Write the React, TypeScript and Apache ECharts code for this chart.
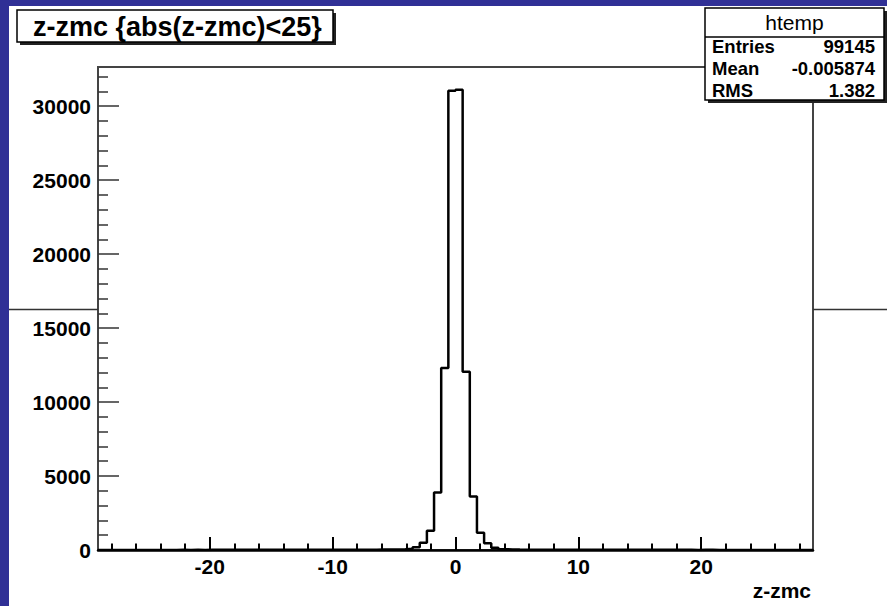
import React, { useEffect, useRef } from 'react';
import * as echarts from 'echarts';

// Histogram definition (ROOT TH1 "htemp")
const X_MIN = -29.1;
const X_MAX = 29.1;
const Y_MAX = 32650;

// bins from X_MIN up to 0 (50 bins)
const negativeSideCounts = [
  0, 0, 0, 0, 0, 0, 0, 4, 6, 8,
  7, 9, 8, 10, 8, 9, 11, 10, 9, 12,
  11, 10, 13, 12, 11, 14, 13, 13, 15, 14,
  16, 15, 17, 16, 19, 18, 21, 20, 24, 26,
  27, 33, 45, 90, 180, 490, 1300, 3890, 12300, 31040,
];
// bins from 0 up to X_MAX (50 bins)
const positiveSideCounts = [
  31110, 12050, 3620, 1170, 450, 155, 55, 35, 28, 25,
  22, 23, 20, 19, 18, 19, 16, 17, 15, 14,
  15, 13, 14, 12, 13, 11, 12, 10, 11, 12,
  10, 9, 10, 8, 9, 9, 8, 7, 8, 6,
  7, 6, 4, 0, 0, 0, 0, 0, 0, 0,
];

const xMajorTicks = [-20, -10, 0, 10, 20];
const xMinorTicks = [-28, -26, -24, -22, -20, -18, -16, -14, -12, -10, -8, -6, -4, -2, 0, 2, 4, 6, 8, 10, 12, 14, 16, 18, 20, 22, 24, 26, 28];
const yMajorTicks = [0, 5000, 10000, 15000, 20000, 25000, 30000];
const yMinorTicks = [1000, 2000, 3000, 4000, 6000, 7000, 8000, 9000, 11000, 12000, 13000, 14000, 16000, 17000, 18000, 19000, 21000, 22000, 23000, 24000, 26000, 27000, 28000, 29000, 31000, 32000];

const titleText = 'z-zmc {abs(z-zmc)<25}';
const xTitle = 'z-zmc';
const statsName = 'htemp';
const statsLabels = ['Entries', 'Mean', 'RMS'];
const statsValues = ['99145', '-0.005874', '1.382'];

const FONT = '"Liberation Sans", Arial, Helvetica, sans-serif';

export default function App() {
  const ref = useRef<HTMLDivElement>(null);

  useEffect(() => {
    document.body.style.margin = '0';
    const chart = echarts.init(ref.current!, null, { renderer: 'svg', width: 887, height: 606 });

    const counts = [...negativeSideCounts, ...positiveSideCounts];
    const w = (X_MAX - X_MIN) / counts.length;
    const data: number[][] = counts.map((c, i) => [X_MIN + i * w, c]);
    data.push([X_MAX, counts[counts.length - 1]]);

    const fmt = (v: number) => String(v);

    const rowY = [46, 68.5, 90];
    const statsGraphics: any[] = [];
    statsLabels.forEach((lab, i) => {
      statsGraphics.push({
        type: 'text', x: 712, y: rowY[i], z: 102,
        style: { text: lab, font: `bold 18.5px ${FONT}`, fill: '#000', textAlign: 'left', textVerticalAlign: 'middle' },
      });
      statsGraphics.push({
        type: 'text', x: 875, y: rowY[i], z: 102,
        style: { text: statsValues[i], font: `bold 18.5px ${FONT}`, fill: '#000', textAlign: 'right', textVerticalAlign: 'middle' },
      });
    });

    const option: any = {
      animation: false,
      grid: {
        left: 98, right: 74, top: 67, bottom: 56,
        show: true, borderColor: '#444', borderWidth: 2, backgroundColor: 'transparent',
      },
      xAxis: [
        {
          type: 'value', min: X_MIN, max: X_MAX, position: 'bottom',
          axisLine: { show: true, onZero: false, lineStyle: { color: '#000', width: 2.5 } },
          axisTick: { show: true, inside: true, length: 13, customValues: xMajorTicks, lineStyle: { color: '#000', width: 2 } },
          axisLabel: { show: true, customValues: xMajorTicks, formatter: fmt, fontFamily: FONT, fontWeight: 'bold', fontSize: 21, color: '#000', margin: 6 },
          splitLine: { show: false },
        },
        {
          type: 'value', min: X_MIN, max: X_MAX, position: 'bottom',
          axisLine: { show: false, onZero: false },
          axisTick: { show: true, inside: true, length: 6.5, customValues: xMinorTicks, lineStyle: { color: '#000', width: 2 } },
          axisLabel: { show: false },
          splitLine: { show: false },
        },
      ],
      yAxis: [
        {
          type: 'value', min: 0, max: Y_MAX, position: 'left',
          axisLine: { show: true, onZero: false, lineStyle: { color: '#444', width: 2 } },
          axisTick: { show: true, inside: true, length: 21, customValues: yMajorTicks, lineStyle: { color: '#333', width: 1.5 } },
          axisLabel: { show: true, customValues: yMajorTicks, formatter: fmt, fontFamily: FONT, fontWeight: 'bold', fontSize: 21, color: '#000', margin: 7 },
          splitLine: { show: false },
        },
        {
          type: 'value', min: 0, max: Y_MAX, position: 'left',
          axisLine: { show: false, onZero: false },
          axisTick: { show: true, inside: true, length: 10, customValues: yMinorTicks, lineStyle: { color: '#333', width: 1.5 } },
          axisLabel: { show: false },
          splitLine: { show: false },
        },
      ],
      series: [
        {
          type: 'line', step: 'end', data, xAxisIndex: 0, yAxisIndex: 0,
          symbol: 'none', showSymbol: false, clip: true, z: 5,
          lineStyle: { color: '#000', width: 2.5 },
        },
      ],
      graphic: [
        // stray horizontal line across the margins
        { type: 'line', z: 50, shape: { x1: 9, y1: 309.5, x2: 98, y2: 309.5 }, style: { stroke: '#333', lineWidth: 1.5 } },
        { type: 'line', z: 50, shape: { x1: 813, y1: 309.5, x2: 887, y2: 309.5 }, style: { stroke: '#333', lineWidth: 1.5 } },
        // title box
        { type: 'rect', z: 100, shape: { x: 20, y: 13, width: 316, height: 32 }, style: { fill: '#222' } },
        { type: 'rect', z: 101, shape: { x: 17, y: 10, width: 316, height: 32 }, style: { fill: '#fff', stroke: '#000', lineWidth: 1.5 } },
        { type: 'text', z: 102, x: 33, y: 26.5, style: { text: titleText, font: `bold 27px ${FONT}`, fill: '#000', textAlign: 'left', textVerticalAlign: 'middle' } },
        // stats box
        { type: 'rect', z: 100, shape: { x: 708, y: 11, width: 179, height: 92 }, style: { fill: '#222' } },
        { type: 'rect', z: 101, shape: { x: 705, y: 8, width: 179, height: 92 }, style: { fill: '#fff', stroke: '#000', lineWidth: 1.5 } },
        { type: 'line', z: 102, shape: { x1: 705, y1: 37, x2: 884, y2: 37 }, style: { stroke: '#000', lineWidth: 1.5 } },
        { type: 'text', z: 102, x: 794.5, y: 22.5, style: { text: statsName, font: `500 21px ${FONT}`, fill: '#000', textAlign: 'center', textVerticalAlign: 'middle' } },
        ...statsGraphics,
        // x-axis title
        { type: 'text', z: 102, x: 811, y: 590, style: { text: xTitle, font: `bold 21px ${FONT}`, fill: '#000', textAlign: 'right', textVerticalAlign: 'middle' } },
      ],
    };

    chart.setOption(option);
    return () => chart.dispose();
  }, []);

  return (
    <div
      ref={ref}
      style={{
        position: 'absolute', left: 0, top: 0, width: 887, height: 606,
        background: '#ffffff', boxShadow: 'inset 9px 6px 0 0 #303096',
      }}
    />
  );
}
